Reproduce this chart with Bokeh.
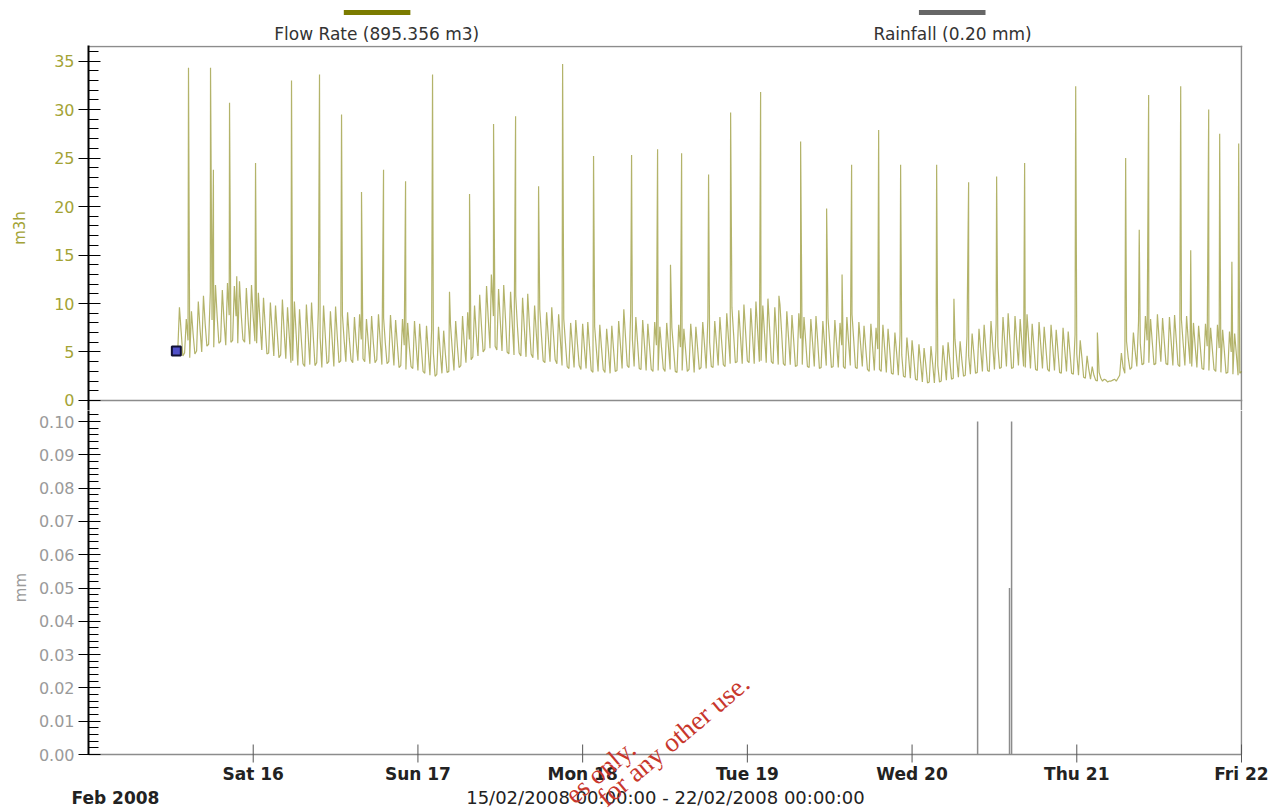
from bokeh.plotting import figure
from bokeh.layouts import column
from bokeh.models import Range1d, FixedTicker, NumeralTickFormatter
from bokeh.embed import file_html
from bokeh.resources import INLINE
from bokeh.core.properties import value

# ---------------- data (hours since 15/02/2008 00:00) ----------------
FLOW_START_H = 13.0
FLOW_STEP_H = 0.25
flow_base = [
    5.0, 9.6, 7.1, 4.6, 4.9, 8.4, 6.2, 4.4, 9.2, 6.8, 4.8, 5.1, 10.2, 7.4, 5.0, 10.8,
    7.9, 5.6, 5.8, 11.2, 8.3, 5.5, 11.9, 8.6, 5.9, 6.1, 11.4, 8.2, 5.7, 12.1, 8.8, 6.0,
    6.2, 11.8, 8.7, 5.9, 12.3, 8.9, 6.3, 6.0, 11.6, 8.4, 5.8, 11.9, 8.6, 6.1, 5.9, 11.1,
    8.0, 5.2, 10.6, 7.6, 4.8, 4.9, 10.1, 7.3, 4.6, 9.8, 7.0, 4.4, 4.7, 10.4, 7.2, 4.3,
    9.6, 6.7, 3.9, 4.1, 10.2, 6.9, 3.6, 9.4, 6.4, 3.8, 3.5, 9.9, 6.8, 3.7, 10.1, 6.6,
    3.6, 3.9, 9.5, 6.5, 3.4, 9.8, 6.7, 3.8, 4.0, 9.2, 6.3, 3.5, 9.7, 6.6, 3.9, 4.1,
    8.8, 6.2, 4.0, 9.1, 6.4, 4.2, 3.9, 8.6, 6.0, 4.1, 8.9, 6.3, 4.3, 4.0, 8.4, 6.1,
    3.8, 8.7, 6.0, 3.9, 4.2, 8.9, 6.2, 3.7, 8.5, 5.9, 3.8, 4.0, 8.8, 6.1, 3.6, 8.3,
    5.8, 3.4, 3.6, 8.4, 5.7, 3.2, 8.0, 5.5, 3.5, 3.3, 8.2, 5.6, 3.1, 7.9, 5.4, 3.0,
    2.8, 7.7, 5.1, 2.6, 7.3, 4.9, 2.5, 2.7, 7.6, 5.0, 2.8, 7.2, 4.8, 2.9, 3.0, 7.8,
    5.3, 3.1, 8.2, 5.6, 3.4, 3.6, 8.7, 5.9, 3.9, 9.1, 6.3, 4.2, 4.5, 9.8, 6.9, 4.6,
    10.9, 7.8, 5.0, 5.3, 11.8, 8.4, 5.4, 12.4, 8.7, 5.6, 5.2, 11.5, 8.2, 5.1, 11.9, 8.5,
    5.0, 4.8, 11.2, 7.9, 4.7, 10.8, 7.6, 4.9, 4.6, 10.6, 7.5, 4.5, 11.0, 7.7, 4.8, 4.4,
    9.8, 6.9, 4.2, 9.4, 6.7, 4.1, 3.9, 9.1, 6.5, 4.0, 9.6, 6.8, 4.2, 3.8, 8.9, 6.3,
    3.6, 8.4, 5.9, 3.5, 3.3, 8.0, 5.7, 3.4, 8.3, 5.8, 3.6, 3.2, 7.9, 5.5, 3.3, 8.1,
    5.6, 3.1, 2.9, 7.6, 5.3, 3.0, 7.8, 5.4, 3.2, 2.9, 7.4, 5.2, 2.8, 7.7, 5.3, 3.0,
    3.1, 8.2, 5.8, 3.3, 9.4, 6.5, 3.6, 3.4, 9.0, 6.3, 3.5, 8.6, 6.0, 3.3, 3.2, 8.3,
    5.8, 3.1, 7.9, 5.6, 3.2, 3.0, 8.1, 5.7, 3.1, 7.6, 5.4, 3.3, 3.0, 8.0, 5.6, 3.2,
    7.5, 5.3, 3.0, 2.9, 7.8, 5.5, 3.1, 7.4, 5.2, 3.0, 3.2, 7.9, 5.6, 2.9, 7.6, 5.4,
    3.2, 3.4, 8.1, 5.8, 3.3, 8.5, 6.0, 3.5, 3.4, 8.2, 5.9, 3.6, 8.6, 6.1, 3.7, 3.5,
    9.0, 6.4, 3.8, 9.6, 6.8, 3.9, 4.0, 9.3, 6.6, 3.8, 9.9, 7.0, 4.1, 3.9, 9.5, 6.7,
    3.8, 10.2, 7.2, 4.0, 4.1, 9.8, 6.9, 3.9, 10.5, 7.3, 4.0, 3.8, 9.6, 6.8, 3.7, 9.9,
    6.9, 3.8, 3.6, 9.2, 6.5, 3.7, 8.8, 6.2, 3.5, 3.6, 9.0, 6.4, 3.7, 8.6, 6.1, 3.5,
    3.4, 8.4, 6.0, 3.5, 8.7, 6.1, 3.3, 3.4, 8.2, 5.8, 3.6, 8.5, 6.0, 3.4, 3.5, 8.3,
    5.9, 3.4, 8.0, 5.7, 3.5, 3.3, 8.6, 6.0, 3.6, 8.9, 6.2, 3.4, 3.3, 8.1, 5.8, 3.5,
    7.7, 5.4, 3.2, 3.0, 7.9, 5.5, 3.1, 7.5, 5.3, 3.2, 3.0, 7.8, 5.4, 2.9, 7.4, 5.2,
    2.8, 2.7, 7.0, 4.9, 2.6, 6.8, 4.7, 2.5, 2.4, 6.5, 4.5, 2.3, 6.2, 4.3, 2.2, 2.1,
    5.8, 3.9, 1.9, 5.4, 3.7, 1.8, 1.9, 5.6, 3.8, 1.8, 5.2, 3.6, 1.9, 2.0, 5.7, 3.9,
    2.1, 6.0, 4.1, 2.2, 2.3, 6.3, 4.3, 2.4, 6.1, 4.2, 2.5, 2.6, 6.6, 4.6, 2.7, 6.9,
    4.9, 2.8, 2.9, 7.4, 5.2, 3.0, 7.8, 5.4, 3.1, 3.0, 8.2, 5.7, 3.2, 7.9, 5.6, 3.3,
    3.4, 8.6, 6.0, 3.5, 9.0, 6.2, 3.3, 3.4, 8.7, 6.1, 3.6, 8.4, 5.9, 3.5, 3.4, 8.9,
    6.1, 3.3, 7.9, 5.6, 3.2, 3.1, 8.1, 5.7, 3.3, 7.6, 5.4, 3.2, 3.0, 7.8, 5.5, 3.1,
    7.3, 5.1, 2.9, 2.8, 7.5, 5.2, 3.0, 7.1, 5.0, 2.8, 2.7, 6.8, 4.8, 2.6, 6.2, 4.4,
    2.4, 2.3, 4.6, 3.2, 2.2, 3.5, 2.6, 2.1, 2.0, 2.9, 2.3, 2.0, 2.2, 2.1, 1.9, 2.0,
    2.0, 2.1, 2.2, 2.0, 2.3, 2.6, 4.9, 3.4, 2.8, 6.1, 4.4, 3.2, 3.4, 7.0, 5.1, 3.5,
    8.2, 5.9, 3.7, 3.8, 8.7, 6.2, 3.9, 8.4, 6.0, 3.7, 3.8, 8.9, 6.3, 4.0, 8.5, 6.1,
    3.8, 3.7, 8.6, 6.1, 3.6, 8.8, 6.2, 3.7, 3.5, 8.3, 5.9, 3.6, 8.7, 6.1, 3.8, 3.5,
    8.0, 5.6, 3.4, 7.7, 5.5, 3.3, 3.2, 7.9, 5.6, 3.1, 7.5, 5.3, 3.2, 3.0, 7.8, 5.4,
    2.9, 7.3, 5.1, 2.8, 2.9, 7.1, 5.0, 2.7, 6.9, 4.8, 2.6, 2.8, 3.0,
]

spike_hours = [14.57, 17.78, 20.55, 24.34, 29.58, 33.66, 36.87, 39.78, 42.99,
               46.2, 50.13, 55.52, 59.02, 62.23, 65.58, 69.08, 73.59, 79.13,
               82.92, 86.42, 90.35, 93.56, 97.93, 103.76, 107.55, 111.19,
               115.13, 118.33, 123.58, 128.24, 132.32, 136.4, 143.84, 151.12,
               154.47, 159.14, 163.22, 164.82, 167.59]
spike_values = [34.3, 34.3, 30.7, 24.5, 33.0, 33.6, 29.5, 21.5, 23.8,
                22.6, 33.6, 21.3, 28.5, 29.3, 22.1, 34.7, 25.2, 25.3,
                25.9, 25.5, 23.3, 29.7, 31.8, 26.7, 19.8, 24.3,
                27.9, 24.3, 24.3, 22.5, 23.1, 24.5, 32.4, 25.0,
                31.5, 32.4, 30.0, 27.5, 26.5]

small_spike_hours = [18.2, 21.6, 52.6, 58.7, 84.8, 100.6, 109.8, 126.1,
                     147.0, 153.1, 160.6, 166.6]
small_spike_values = [23.8, 12.8, 11.2, 13.0, 14.0, 10.8, 13.0, 10.5,
                      7.0, 17.6, 15.5, 14.3]

marker_hours = [12.8]
marker_values = [5.1]

rain_hours = [129.55, 134.2, 134.5]
rain_mm = [0.10, 0.05, 0.10]

day_ticks = [24, 48, 72, 96, 120, 144, 168]
day_labels = ["Sat 16", "Sun 17", "Mon 18", "Tue 19", "Wed 20", "Thu 21", "Fri 22"]
flow_ticks = [0, 5, 10, 15, 20, 25, 30, 35]
rain_ticks = [0.0, 0.01, 0.02, 0.03, 0.04, 0.05, 0.06, 0.07, 0.08, 0.09, 0.10]

legend_labels = ["Flow Rate (895.356 m3)", "Rainfall (0.20 mm)"]
range_text = "15/02/2008 00:00:00 - 22/02/2008 00:00:00"
month_text = "Feb 2008"
watermark_lines = ["es only.", "for any other use."]

# ---------------- assemble the flow series ----------------
base_t = [FLOW_START_H + i * FLOW_STEP_H for i in range(len(flow_base))]
pts = list(zip(base_t, flow_base)) + list(zip(spike_hours, spike_values)) \
    + list(zip(small_spike_hours, small_spike_values))
pts.sort()
flow_t = [p[0] for p in pts]
flow_v = [p[1] for p in pts]

# ---------------- layout ----------------
W = 1277
L = 88
R = 35
X_END = 168.146
PX_PER_H = 1154 / X_END
MM_PER_PX = 0.1 / 333
FONT = "DejaVu Sans"
OLIVE = "#85850f"
OLIVE_TXT = "#a3a336"
GREY_TXT = "#9a9a9a"
FRAME = "#8c8c8c"
RED = "#c8372d"
RAIN_TOP = 344 * MM_PER_PX

# watermark anchors in page pixels (left/baseline of each line)
WM_X = [578, 610]
WM_Y = [809, 812]

xr = Range1d(0, X_END)

# header with legend (page y 0..45)
head = figure(width=W, height=45, x_range=xr, y_range=Range1d(0, 45),
              min_border_left=L, min_border_right=R, min_border_top=0, min_border_bottom=0,
              x_axis_location=None, y_axis_location=None,
              toolbar_location=None, output_backend="svg")
head.outline_line_color = None
head.grid.visible = False
head.segment(x0=[37.2, 121.0], y0=[33, 33], x1=[46.9, 130.7], y1=[33, 33],
             line_color=["#7b7b00", "#666666"], line_width=5)
head.text(x=[42.0, 125.9], y=[12, 12], text=legend_labels,
          text_align="center", text_baseline="middle",
          text_font=value(FONT), text_font_size="17px", text_color="#333333")

# flow panel (page y 45..410, zero at 400)
top = figure(width=W, height=365, x_range=xr, y_range=Range1d(-1.032, 36.603),
             min_border_left=L, min_border_right=R, min_border_top=0, min_border_bottom=0,
             x_axis_location=None, toolbar_location=None, output_backend="svg")
top.outline_line_color = None
top.grid.visible = False
top.hspan(y=[0, 36.5], line_color=FRAME, line_width=1.5)
top.vspan(x=[168], line_color=FRAME, line_width=1.5)
top.line(flow_t, flow_v, line_color=OLIVE, line_width=1.2, line_alpha=0.62)
top.scatter(marker_hours, marker_values, marker="square", size=9,
            fill_color="#5050c8", line_color="#111133", line_width=2)
ya = top.yaxis[0]
ya.ticker = FixedTicker(ticks=flow_ticks, minor_ticks=list(range(0, 37)))
ya.axis_line_color = "black"
ya.axis_line_width = 2
ya.major_tick_line_color = "black"
ya.minor_tick_line_color = "black"
ya.major_tick_in = 12
ya.major_tick_out = 10
ya.minor_tick_in = 10
ya.minor_tick_out = 0
ya.major_label_text_color = OLIVE_TXT
ya.major_label_text_font = FONT
ya.major_label_text_font_size = "16px"
ya.major_label_standoff = 4
ya.axis_label = "m3h"
ya.axis_label_text_color = OLIVE_TXT
ya.axis_label_text_font = FONT
ya.axis_label_text_font_size = "15px"
ya.axis_label_text_font_style = "normal"
ya.axis_label_standoff = 22

# rainfall panel (page y 410..764, zero at 754)
bot = figure(width=W, height=354, x_range=xr,
             y_range=Range1d(-10 * MM_PER_PX, RAIN_TOP),
             min_border_left=L, min_border_right=R, min_border_top=0, min_border_bottom=0,
             x_axis_location=None, toolbar_location=None, output_backend="svg")
bot.outline_line_color = None
bot.grid.visible = False
bot.segment(x0=[168], y0=[0], x1=[168], y1=[RAIN_TOP], line_color=FRAME, line_width=1.5)
bot.segment(x0=[0], y0=[0], x1=[168], y1=[0], line_color=FRAME, line_width=1.5)
bot.segment(x0=day_ticks, y0=[-8 * MM_PER_PX] * len(day_ticks), x1=day_ticks,
            y1=[10 * MM_PER_PX] * len(day_ticks), line_color="#555555", line_width=1)
bot.segment(x0=rain_hours, y0=[0] * len(rain_hours), x1=rain_hours, y1=rain_mm,
            line_color="#8c8c8c", line_width=1.5)
yb = bot.yaxis[0]
yb.bounds = (0, RAIN_TOP)
yb.ticker = FixedTicker(ticks=rain_ticks, minor_ticks=[i * 0.002 for i in range(52)])
yb.formatter = NumeralTickFormatter(format="0.00")
yb.axis_line_color = "black"
yb.axis_line_width = 2
yb.major_tick_line_color = "black"
yb.minor_tick_line_color = "black"
yb.major_tick_in = 12
yb.major_tick_out = 10
yb.minor_tick_in = 10
yb.minor_tick_out = 0
yb.major_label_text_color = GREY_TXT
yb.major_label_text_font = FONT
yb.major_label_text_font_size = "16px"
yb.major_label_standoff = 4
yb.axis_label = "mm"
yb.axis_label_text_color = GREY_TXT
yb.axis_label_text_font = FONT
yb.axis_label_text_font_size = "15px"
yb.axis_label_text_font_style = "normal"
yb.axis_label_standoff = 6
# watermark part that falls inside the rainfall panel
bot.text(x=[(px - L) / PX_PER_H for px in WM_X],
         y=[(754 - py) * MM_PER_PX for py in WM_Y], text=watermark_lines,
         angle=40, angle_units="deg", text_font=value("Liberation Serif"),
         text_font_size="27px", text_color=RED)

# footer: day labels, period texts and the rest of the watermark (page y 764..810)
foot = figure(width=W, height=46,
              x_range=Range1d(-L / PX_PER_H, (W - L) / PX_PER_H), y_range=Range1d(0, 46),
              min_border_left=0, min_border_right=0, min_border_top=0, min_border_bottom=0,
              x_axis_location=None, y_axis_location=None,
              toolbar_location=None, output_backend="svg")
foot.frame_align = False
foot.outline_line_color = None
foot.grid.visible = False
foot.text(x=day_ticks, y=[37] * len(day_ticks), text=day_labels,
          text_align="center", text_baseline="middle", text_font=value(FONT),
          text_font_size="17px", text_font_style="bold", text_color="#222222")
foot.text(x=[3.93], y=[13], text=[month_text], text_align="center",
          text_baseline="middle", text_font=value(FONT), text_font_size="17px",
          text_font_style="bold", text_color="#222222")
foot.text(x=[84.07], y=[13], text=[range_text], text_align="center",
          text_baseline="middle", text_font=value(FONT), text_font_size="18px",
          text_color="#222222")
foot.text(x=[(px - L) / PX_PER_H for px in WM_X], y=[810 - py for py in WM_Y],
          text=watermark_lines,
          angle=40, angle_units="deg", text_font=value("Liberation Serif"),
          text_font_size="27px", text_color=RED)

page = column(head, top, bot, foot, spacing=0)
open("out.html", "w").write(file_html(page, INLINE))
